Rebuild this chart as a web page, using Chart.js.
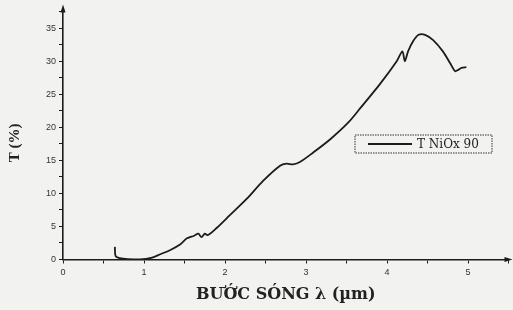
<!DOCTYPE html>
<html>
<head>
<meta charset="utf-8">
<script src="https://cdn.jsdelivr.net/npm/chart.js@4"></script>
<style>
  html, body { margin: 0; padding: 0; background: #f2f2f0; }
  #wrap { width: 513px; height: 310px; }
</style>
</head>
<body>
<div id="wrap"><canvas id="chartT"></canvas></div>
<script>
// data
const wavelength = [0.64, 0.65, 0.70, 0.80, 0.95, 1.10, 1.20, 1.32, 1.45, 1.53, 1.62, 1.67, 1.71, 1.75, 1.79,
  1.90, 2.06, 2.27, 2.47, 2.68, 2.76, 2.84, 2.93, 3.09, 3.30, 3.52, 3.67, 3.91, 4.12, 4.19, 4.22,
  4.26, 4.32, 4.39, 4.47, 4.57, 4.69, 4.78, 4.84, 4.88, 4.92, 4.98];
const transmittance = [1.9, 0.5, 0.2, 0.05, 0.0, 0.3, 0.8, 1.4, 2.3, 3.2, 3.6, 3.9, 3.4, 3.9, 3.7,
  4.8, 6.7, 9.2, 11.9, 14.2, 14.5, 14.4, 14.8, 16.2, 18.2, 20.7, 22.9, 26.5, 30.0, 31.5, 30.0,
  31.5, 33.0, 34.0, 34.0, 33.2, 31.5, 29.7, 28.5, 28.7, 29.0, 29.1];
const seriesName = "T NiOx 90";
const xTicks = [0, 1, 2, 3, 4, 5];
const yTicks = [0, 5, 10, 15, 20, 25, 30, 35];
const yTitle = "T (%)";

const ink = "#1c1c1c";

// arrows on axis ends, y title, boxed legend inside plot
const extras = {
  id: "extras",
  afterDraw(chart) {
    const c = chart.ctx, a = chart.chartArea;
    c.save();
    c.fillStyle = ink;
    c.beginPath();
    c.moveTo(a.right + 4, a.bottom);
    c.lineTo(a.right - 4, a.bottom - 2.5);
    c.lineTo(a.right - 4, a.bottom + 2.5);
    c.fill();
    c.beginPath();
    c.moveTo(a.left, a.top - 4);
    c.lineTo(a.left - 2.5, a.top + 4);
    c.lineTo(a.left + 2.5, a.top + 4);
    c.fill();

    // y title, a bit below the middle like the original
    c.save();
    c.translate(15, 143);
    c.rotate(-Math.PI / 2);
    c.fillStyle = "#222";
    c.font = "bold 15px 'Liberation Serif'";
    c.textAlign = "center";
    c.textBaseline = "middle";
    c.fillText(yTitle, 0, 0);
    c.restore();

    // legend box
    const bx = 355, by = 135, bw = 137, bh = 18;
    c.strokeStyle = "#333";
    c.lineWidth = 1;
    c.setLineDash([1.5, 1]);
    c.strokeRect(bx, by, bw, bh);
    c.setLineDash([]);
    c.strokeStyle = ink;
    c.lineWidth = 1.8;
    c.beginPath();
    c.moveTo(368, by + bh / 2);
    c.lineTo(412, by + bh / 2);
    c.stroke();
    c.fillStyle = "#222";
    c.font = "12px 'DejaVu Serif'";
    c.textBaseline = "middle";
    c.fillText(seriesName, 417, by + bh / 2 + 1);
    c.restore();
  }
};

const ctx = document.getElementById("chartT");

new Chart(ctx, {
  type: "line",
  data: {
    datasets: [{
      label: seriesName,
      data: wavelength.map((x, i) => ({ x: x, y: transmittance[i] })),
      borderColor: ink,
      borderWidth: 1.8,
      pointRadius: 0,
      tension: 0.3,
      fill: false
    }]
  },
  options: {
    responsive: true,
    maintainAspectRatio: false,
    animation: false,
    layout: { padding: { top: 7, right: 4.5, left: 0, bottom: 0 } },
    plugins: {
      legend: { display: false },
      tooltip: { enabled: false }
    },
    scales: {
      x: {
        type: "linear",
        min: 0,
        max: 5.5,
        afterFit: s => { s.height = 50.5; },
        afterBuildTicks: s => {
          const t = [];
          for (let v = 0; v <= 5.5; v += 0.5) t.push({ value: v });
          s.ticks = t;
        },
        grid: { drawOnChartArea: false, drawTicks: true, tickLength: 4, color: ink },
        border: { display: true, color: ink, width: 1.6 },
        ticks: {
          color: "#333",
          font: { family: "'Liberation Sans'", size: 9 },
          padding: 4,
          maxRotation: 0,
          autoSkip: false,
          callback: v => xTicks.includes(v) ? String(v) : ""
        },
        title: {
          display: true,
          text: "BƯỚC SÓNG λ (µm)",
          color: "#222",
          font: { family: "'DejaVu Serif'", size: 16, weight: "bold" },
          padding: { top: 0, bottom: 6 }
        }
      },
      y: {
        type: "linear",
        min: 0,
        max: 38,
        afterFit: s => { s.width = 63; },
        afterBuildTicks: s => {
          const t = [];
          for (let v = 0; v <= 37.5; v += 2.5) t.push({ value: v });
          s.ticks = t;
        },
        grid: { drawOnChartArea: false, drawTicks: true, tickLength: 4, color: ink },
        border: { display: true, color: ink, width: 1.6 },
        ticks: {
          color: "#333",
          font: { family: "'Liberation Sans'", size: 9 },
          padding: 3,
          autoSkip: false,
          callback: v => yTicks.includes(v) ? String(v) : ""
        }
      }
    }
  },
  plugins: [extras]
});
</script>
</body>
</html>
